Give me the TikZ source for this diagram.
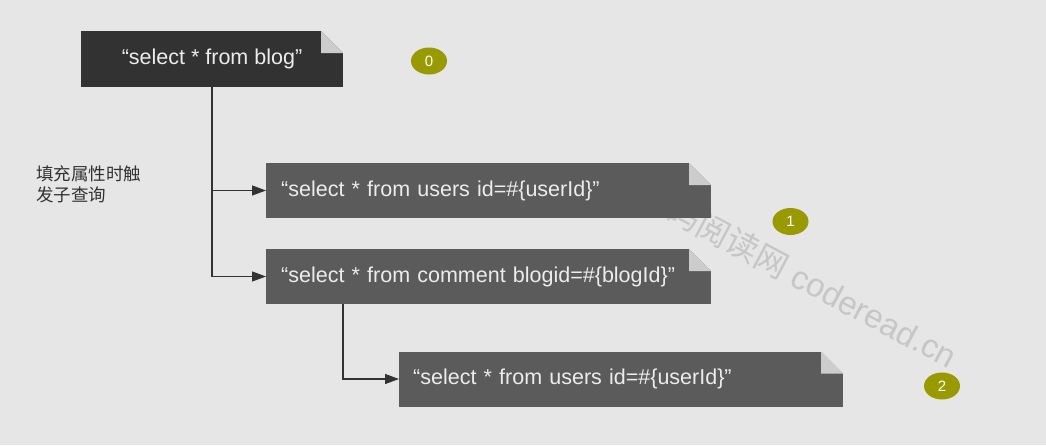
\documentclass[tikz,border=0pt]{standalone}
\usepackage{fontspec}
\setmainfont{Liberation Sans}
\newfontfamily\cjk{Noto Sans CJK SC}
\usetikzlibrary{positioning,arrows.meta,shapes.geometric}
\definecolor{backColor}{RGB}{230,230,230}
\definecolor{darkBoxColor}{RGB}{50,50,50}
\definecolor{boxColor}{RGB}{91,91,91}
\definecolor{foldColor}{RGB}{204,204,204}
\definecolor{boxTextColor}{RGB}{236,236,236}
\definecolor{badgeColor}{RGB}{153,153,0}
\definecolor{lineColor}{RGB}{51,51,51}
\definecolor{markColor}{RGB}{198,198,198}
\newcommand{\fold}{22pt}
\tikzstyle{foldCorner} = [path picture={
    \fill [backColor] ([xshift=-\fold]path picture bounding box.north east) -- (path picture bounding box.north east) -- ([yshift=-\fold]path picture bounding box.north east) -- cycle;
    \fill [foldColor] ([xshift=-\fold]path picture bounding box.north east) -- ([xshift=-\fold, yshift=-\fold]path picture bounding box.north east) -- ([yshift=-\fold]path picture bounding box.north east) -- cycle;
  }]
\tikzstyle{queryText} = [text=boxTextColor, font=\fontsize{21.5}{25}\selectfont]
\tikzstyle{mainBox} = [queryText, fill=darkBoxColor, minimum width=262pt, minimum height=56pt, inner sep=0pt, foldCorner]
\tikzstyle{queryBox} = [queryText, fill=boxColor, minimum height=55pt, inner ysep=0pt, inner xsep=15pt, text width=415pt, align=left, foldCorner]
\tikzstyle{badge} = [ellipse, fill=badgeColor, text=white, minimum width=36pt, minimum height=27pt, inner sep=0pt, font=\fontsize{15}{15}\selectfont]
\tikzstyle{link} = [draw=lineColor, line width=1.2pt, -{Triangle[length=14pt, width=10pt]}]

\begin{document}
\begin{tikzpicture}[x=1pt, y=-1pt]
  \fill [backColor] (0,0) rectangle (1046,445);
  \useasboundingbox (0,0) rectangle (1046,445);

  \node [rotate=-28, anchor=east, text=markColor, font=\fontsize{33}{33}\selectfont] (watermark) at (958,360) {{\cjk 源码阅读网} coderead.cn};

  \node [mainBox] (blogQuery) at (212,59) {“select * from blog”};
  \node [queryBox, anchor=west] (usersQuery) at (266,190.5) {“select * from users id=\#\{userId\}”};
  \node [queryBox, anchor=west] (commentQuery) at (266,276.5) {“select * from comment blogid=\#\{blogId\}”};
  \node [queryBox, anchor=west, inner xsep=14pt, text width=416pt] (subUsersQuery) at (399,379) {“select * from users id=\#\{userId\}”};

  \node [anchor=north west, align=left, text=lineColor, inner sep=0pt, font=\cjk\fontsize{17.5}{21}\selectfont] (lazyNote) at (36,166) {填充属性时触\\发子查询};

  \node [badge] (badgeZero) at (429,61) {0};
  \node [badge] (badgeOne) at (790.5,221.5) {1};
  \node [badge] (badgeTwo) at (942,386) {2};

  \draw [link] (blogQuery.south) |- (usersQuery.west);
  \draw [link] (blogQuery.south) |- (commentQuery.west);
  \draw [link] ([xshift=77pt]commentQuery.south west) |- (subUsersQuery.west);
\end{tikzpicture}
\end{document}
